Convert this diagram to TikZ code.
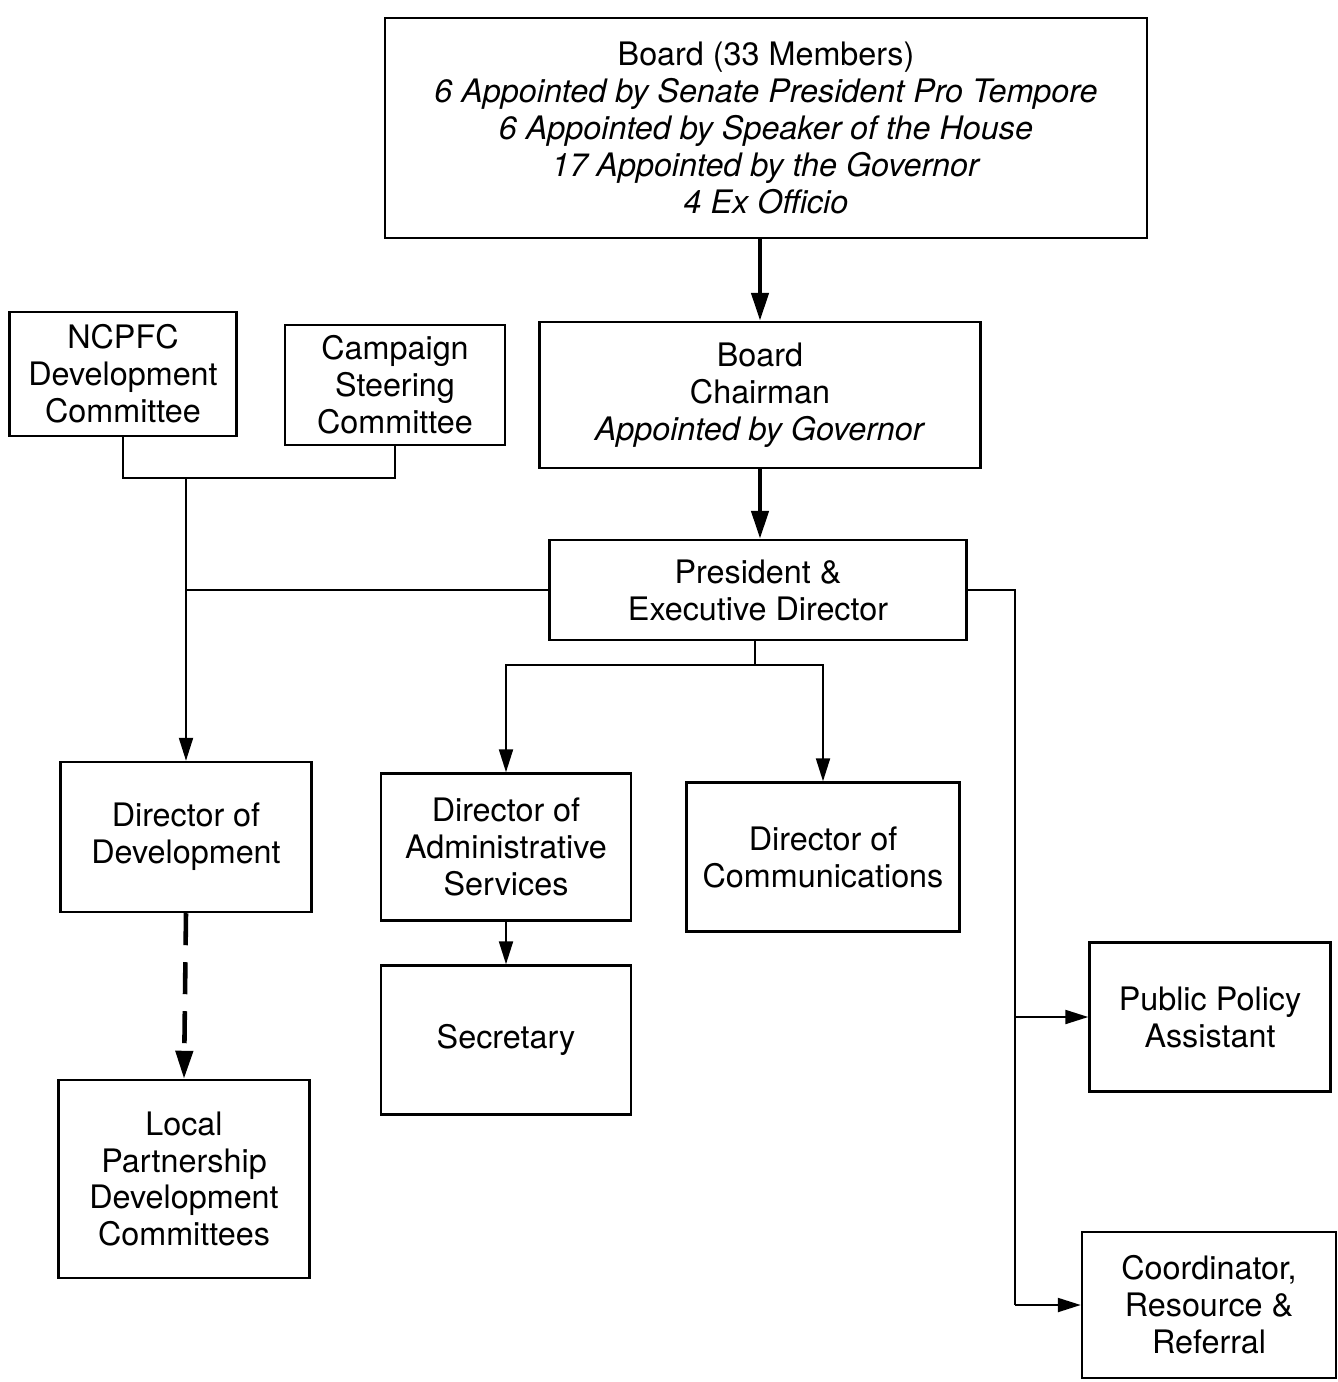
\documentclass[tikz,border=0pt]{standalone}
\usepackage{fontspec}
\setmainfont{TeX Gyre Heros}
\usetikzlibrary{positioning}
\usetikzlibrary{arrows.meta}
\tikzstyle{unit}=[draw,rectangle,line width=0.7pt,align=center,inner sep=2pt,font=\fontsize{9.2}{10.5}\selectfont]
\tikzstyle{link}=[draw,line width=0.6pt]
\tikzstyle{feed}=[draw,line width=0.6pt,-{Triangle[length=2.3mm,width=1.4mm]}]
\tikzstyle{mainline}=[draw,line width=1.3pt,-{Triangle[length=2.8mm,width=1.7mm]}]
\tikzstyle{dashline}=[mainline,dash pattern=on 3.2mm off 1.7mm]

\begin{document}
\begin{tikzpicture}[x=0.1mm,y=-0.1mm]

   \useasboundingbox (0,0) rectangle (1337,1382);

   \node[unit,minimum width=76.2mm,minimum height=22mm] (board) at (766,128)
      {Board (33 Members)\\ \textit{6 Appointed by Senate President Pro Tempore}\\
       \textit{6 Appointed by Speaker of the House}\\ \textit{17 Appointed by the Governor}\\
       \textit{4 Ex Officio}};
   \node[unit,minimum width=44.1mm,minimum height=14.6mm] (chair) at (760,395)
      {Board\\Chairman\\ \textit{Appointed by Governor}};
   \node[unit,minimum width=41.7mm,minimum height=10mm] (pres) at (758,590)
      {President \&\\Executive Director};
   \node[unit,minimum width=22.7mm,minimum height=12.4mm] (ncpfc) at (123,374)
      {NCPFC\\Development\\Committee};
   \node[unit,minimum width=22mm,minimum height=12mm] (camp) at (395,385)
      {Campaign\\Steering\\Committee};

    \foreach \pos/\name/\w/\h/\txt in {{(186,837)/dirdev/25.1/15/{Director of\\Development}},
        {(506,847)/diradm/25/14.7/{Director of\\Administrative\\Services}},
        {(823,857)/dircom/27.3/14.9/{Director of\\Communications}},
        {(506,1040)/sec/25/14.9/{Secretary}},
        {(184,1179)/local/25.1/19.8/{Local\\Partnership\\Development\\Committees}},
        {(1210,1017)/policy/24.1/14.9/{Public Policy\\Assistant}},
        {(1209,1305)/coord/25.4/14.6/{Coordinator,\\Resource \&\\Referral}}}
        \node[unit,minimum width=\w mm,minimum height=\h mm] (\name) at \pos {\txt};

   \coordinate (join) at (186,478);
   \coordinate (tee) at (186,590);
   \coordinate (split) at (755,665);
   \coordinate (bus) at (1015,590);
   \coordinate (busend) at (1015,1305);

   \path[mainline] (chair.north |- board.south) -- (chair.north);
   \path[mainline] (chair.south) -- (chair.south |- pres.north);

   \path[link] (ncpfc.south) |- (join) -| (camp.south);
   \path[feed] (join) -- (dirdev.north);
   \path[link] (pres.west) -- (tee);

   \path[link] (pres.south -| split) -- (split);
   \path[feed] (split) -| (diradm.north);
   \path[feed] (split) -| (dircom.north);
   \path[feed] (diradm.south) -- (sec.north);

   \path[link] (pres.east) -- (bus) -- (busend);
   \path[feed] (bus |- policy.west) -- (policy.west);
   \path[feed] (busend) -- (coord.west);

   \path[dashline] (dirdev.south) -- (local.north);

\end{tikzpicture}
\end{document}
